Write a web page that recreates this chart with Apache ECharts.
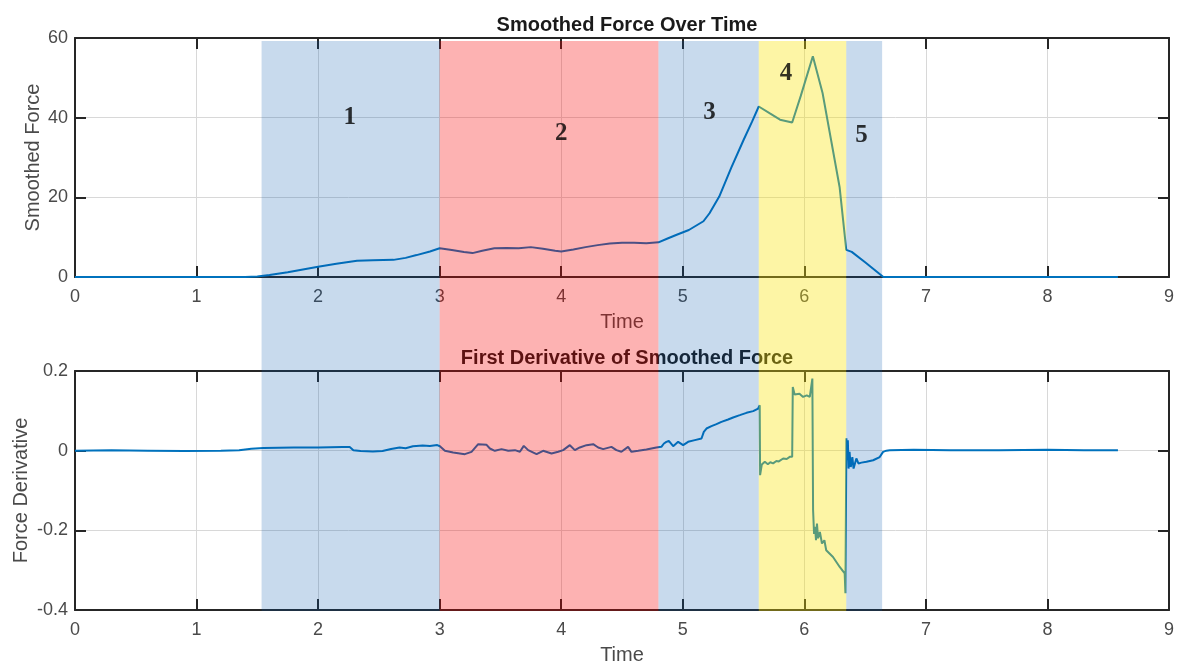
<!DOCTYPE html>
<html>
<head>
<meta charset="utf-8">
<script src="https://cdn.jsdelivr.net/npm/echarts@6/dist/echarts.min.js"></script>
<style>
html,body{margin:0;padding:0;background:#fff;}
#chart{width:1180px;height:669px;}
</style>
</head>
<body>
<div id="chart"></div>
<script>
// ---------- DATA ----------
const forceTime = [0, 0.5, 1.0, 1.3, 1.4, 1.5, 1.6, 1.75, 2.0, 2.15, 2.32, 2.45, 2.62, 2.72, 2.81, 2.92, 3.0, 3.1, 3.2, 3.27, 3.35, 3.45, 3.55, 3.65, 3.75, 3.85, 3.95, 4.0, 4.1, 4.2, 4.3, 4.4, 4.5, 4.6, 4.7, 4.8, 4.87, 4.95, 5.05, 5.17, 5.22, 5.3, 5.4, 5.5, 5.57, 5.625, 5.72, 5.8, 5.9, 5.97, 6.07, 6.15, 6.22, 6.29, 6.345, 6.39, 6.5, 6.65, 7.0, 8.0, 8.58];
const forceValue = [0, 0, 0, 0, 0, 0.1, 0.5, 1.2, 2.6, 3.3, 4.1, 4.2, 4.3, 4.8, 5.5, 6.4, 7.2, 6.8, 6.3, 6.0, 6.6, 7.2, 7.3, 7.2, 7.5, 7.1, 6.6, 6.4, 6.9, 7.5, 8.0, 8.4, 8.6, 8.6, 8.5, 8.7, 9.6, 10.6, 11.8, 14.0, 16.0, 20.2, 27.5, 34.4, 39.0, 42.8, 41.0, 39.5, 38.8, 45.4, 55.4, 46.2, 34.4, 22.6, 6.8, 6.3, 3.7, 0, 0, 0, 0];

const derivTime = [0, 0.3, 0.6, 0.9, 1.2, 1.35, 1.45, 1.55, 1.8, 2.0, 2.2, 2.26, 2.29, 2.35, 2.45, 2.53, 2.6, 2.67, 2.72, 2.78, 2.86, 2.92, 2.98, 3.002,
  3.043, 3.111, 3.207, 3.262, 3.317, 3.386, 3.413, 3.454, 3.509, 3.564, 3.619, 3.660, 3.692, 3.728, 3.797, 3.851, 3.920, 3.975, 4.016, 4.071, 4.112, 4.153, 4.208, 4.263, 4.304, 4.345, 4.413, 4.454, 4.495, 4.550, 4.578, 4.633, 4.701, 4.783, 4.824,
  4.845, 4.865, 4.885, 4.921, 4.962, 5.003, 5.044, 5.099, 5.154, 5.173, 5.195, 5.236, 5.277, 5.318, 5.373, 5.414, 5.469, 5.524, 5.579, 5.620, 5.633,
  5.636, 5.65, 5.675, 5.70, 5.72, 5.743, 5.77, 5.79, 5.826, 5.855, 5.880, 5.900,
  5.905, 5.92, 5.935, 5.96, 5.990, 6.02, 6.045, 6.06, 6.066,
  6.072, 6.080, 6.088, 6.096, 6.104, 6.113, 6.128, 6.145, 6.165, 6.18, 6.236, 6.291, 6.332, 6.338,
  6.346, 6.352, 6.358, 6.364, 6.372, 6.382, 6.395, 6.405, 6.428, 6.445, 6.470, 6.511, 6.566, 6.620, 6.648, 6.675, 6.703, 6.9, 7.2, 7.6, 8.0, 8.3, 8.58];
const derivValue = [0, 0.001, 0, -0.001, 0, 0.001, 0.005, 0.007, 0.008, 0.008, 0.009, 0.009, 0.001, -0.001, -0.002, -0.001, 0.004, 0.008, 0.006, 0.011, 0.013, 0.012, 0.014, 0.011,
  -0.0004, -0.0046, -0.0088, -0.0029, 0.0163, 0.0146, 0.0054, -0.0004, 0.0038, -0.0004, 0.0013, -0.0029, 0.0121, 0.0013, -0.0088, -0.0004, -0.0071, -0.0029, 0.0013, 0.0138, 0.0013, 0.008, 0.0138, 0.0163, 0.008, 0.0038, 0.0096, 0.0013, -0.0029, 0.0096, -0.0029, -0.0004, 0.0029, 0.008, 0.0096,
  0.018, 0.0222, 0.0246, 0.0113, 0.0222, 0.0138, 0.0222, 0.0264, 0.0305, 0.0473, 0.0556, 0.0615, 0.0665, 0.0724, 0.0783, 0.0833, 0.0891, 0.095, 0.0992, 0.1058, 0.114,
  -0.0615, -0.035, -0.028, -0.034, -0.029, -0.032, -0.026, -0.027, -0.0196, -0.021, -0.0155, -0.015,
  0.160, 0.141, 0.139, 0.143, 0.135, 0.139, 0.135, 0.137, 0.181,
  -0.149, -0.209, -0.191, -0.225, -0.183, -0.22, -0.204, -0.233, -0.225, -0.25, -0.267, -0.292, -0.308, -0.358,
  0.031, -0.024, 0.026, -0.045, -0.003, -0.041, -0.016, -0.045, -0.0196, -0.032, -0.03, -0.028, -0.024, -0.016, -0.003, 0.0, 0.001, 0.002, 0.001, 0.001, 0.002, 0.001, 0.001];

const xTicks = [0, 1, 2, 3, 4, 5, 6, 7, 8, 9];
const forceTicks = [0, 20, 40, 60];
const derivTicks = ['-0.4', '-0.2', '0', '0.2'];

const regionStart = [1.535, 3.0, 4.80, 5.625, 6.345];
const regionEnd   = [3.0, 4.80, 5.625, 6.345, 6.64];
const regionKind  = ['blue', 'red', 'blue', 'yellow', 'blue'];
const regionLabel = ['1', '2', '3', '4', '5'];
const labelTime   = [2.26, 4.0, 5.22, 5.85, 6.47];
const labelForce  = [40, 36, 41.2, 51.2, 35.4];

// ---------- STYLE ----------
const FONT = "'Liberation Sans', Arial, sans-serif";
const regionColors = {blue: 'rgba(5,87,173,0.22)', red: 'rgba(248,0,0,0.30)', yellow: 'rgba(250,228,5,0.36)'};
const LINE = '#0072BD';
const AXIS = '#262626';
const LABEL = '#4a4a4a';

const zip = (a, b) => a.map((v, i) => [v, b[i]]);

function mainX(grid, name) {
  return {
    type: 'value', gridIndex: grid, min: xTicks[0], max: xTicks[xTicks.length - 1], interval: 1,
    position: 'bottom', name: name, nameLocation: 'middle', nameGap: 35, nameMoveOverlap: false,
    nameTextStyle: {color: LABEL, fontSize: 20, fontFamily: FONT},
    axisLine: {show: true, onZero: false, lineStyle: {color: AXIS, width: 2}},
    axisTick: {show: true, inside: true, length: 11, lineStyle: {color: AXIS, width: 2}},
    axisLabel: {show: true, color: LABEL, fontSize: 18, fontFamily: FONT, margin: 11},
    splitLine: {show: true, lineStyle: {color: '#d8d8d8', width: 1}}
  };
}
function topX(grid) {
  return {
    type: 'value', gridIndex: grid, min: 0, max: 9, interval: 1, position: 'top',
    axisLine: {show: true, onZero: false, lineStyle: {color: AXIS, width: 2}},
    axisTick: {show: true, inside: true, length: 11, lineStyle: {color: AXIS, width: 2}},
    axisLabel: {show: false}, splitLine: {show: false}
  };
}
function leftY(grid, min, max, interval, name, gap, fmt) {
  return {
    type: 'value', gridIndex: grid, min: min, max: max, interval: interval, position: 'left',
    name: name, nameLocation: 'middle', nameGap: gap, nameRotate: 90, nameMoveOverlap: false,
    nameTextStyle: {color: LABEL, fontSize: 20, fontFamily: FONT},
    axisLine: {show: true, onZero: false, lineStyle: {color: AXIS, width: 2}},
    axisTick: {show: true, inside: true, length: 11, lineStyle: {color: AXIS, width: 2}},
    axisLabel: {show: true, color: LABEL, fontSize: 18, fontFamily: FONT, margin: 7, formatter: fmt},
    splitLine: {show: true, lineStyle: {color: '#d8d8d8', width: 1}}
  };
}
function rightY(grid, min, max, interval) {
  return {
    type: 'value', gridIndex: grid, min: min, max: max, interval: interval, position: 'right',
    axisLine: {show: true, onZero: false, lineStyle: {color: AXIS, width: 2}},
    axisTick: {show: true, inside: true, length: 11, lineStyle: {color: AXIS, width: 2}},
    axisLabel: {show: false}, splitLine: {show: false}
  };
}

const derivFmt = v => {
  const r = Math.round(v * 10) / 10;
  return r === 0 ? '0' : String(r);
};

const chart = echarts.init(document.getElementById('chart'), null, {renderer: 'canvas'});
chart.setOption({
  animation: false,
  backgroundColor: '#ffffff',
  title: [
    {text: 'Smoothed Force Over Time', left: 622, top: 10, textAlign: 'center', z: 1,
     textStyle: {color: '#1a1a1a', fontSize: 20, fontWeight: 'bold', fontFamily: FONT}},
    {text: 'First Derivative of Smoothed Force', left: 622, top: 343, textAlign: 'center', z: 1,
     textStyle: {color: '#1a1a1a', fontSize: 20, fontWeight: 'bold', fontFamily: FONT}}
  ],
  grid: [
    {left: 75, right: 11, top: 38, height: 239, containLabel: false, outerBoundsMode: 'none'},
    {left: 75, right: 11, top: 371, height: 239, containLabel: false, outerBoundsMode: 'none'},
    {left: 75, right: 11, top: 41, height: 570, containLabel: false, outerBoundsMode: 'none'}
  ],
  xAxis: [
    mainX(0, 'Time'), topX(0),
    mainX(1, 'Time'), topX(1),
    {type: 'value', gridIndex: 2, min: 0, max: 9, show: false}
  ],
  yAxis: [
    leftY(0, 0, 60, 20, 'Smoothed Force', 32, v => String(v)), rightY(0, 0, 60, 20),
    leftY(1, -0.4, 0.2, 0.2, 'Force Derivative', 44, derivFmt), rightY(1, -0.4, 0.2, 0.2),
    {type: 'value', gridIndex: 2, min: 0, max: 1, show: false}
  ],
  series: [
    {type: 'line', xAxisIndex: 0, yAxisIndex: 0, data: zip(forceTime, forceValue), showSymbol: false,
     lineStyle: {color: LINE, width: 2}, z: 2, silent: true},
    {type: 'line', xAxisIndex: 2, yAxisIndex: 2, data: zip(derivTime, derivValue), showSymbol: false,
     lineStyle: {color: LINE, width: 2}, z: 2, silent: true},
    {type: 'line', xAxisIndex: 4, yAxisIndex: 4, data: [], z: 5, silent: true,
     markArea: {silent: true, z: 5,
       data: regionStart.map((s, i) => [
         {xAxis: s, itemStyle: {color: regionColors[regionKind[i]]}},
         {xAxis: regionEnd[i]}
       ])}},
    {type: 'scatter', xAxisIndex: 0, yAxisIndex: 0, z: 10, silent: true, symbolSize: 1,
     itemStyle: {color: 'rgba(0,0,0,0)'},
     data: regionLabel.map((l, i) => ({value: [labelTime[i], labelForce[i]], name: l})),
     label: {show: true, position: 'inside', formatter: p => p.name, color: '#000',
       fontSize: 25, fontWeight: 'bold', fontFamily: "'Liberation Serif', 'Times New Roman', serif"}}
  ]
});
</script>
</body>
</html>
